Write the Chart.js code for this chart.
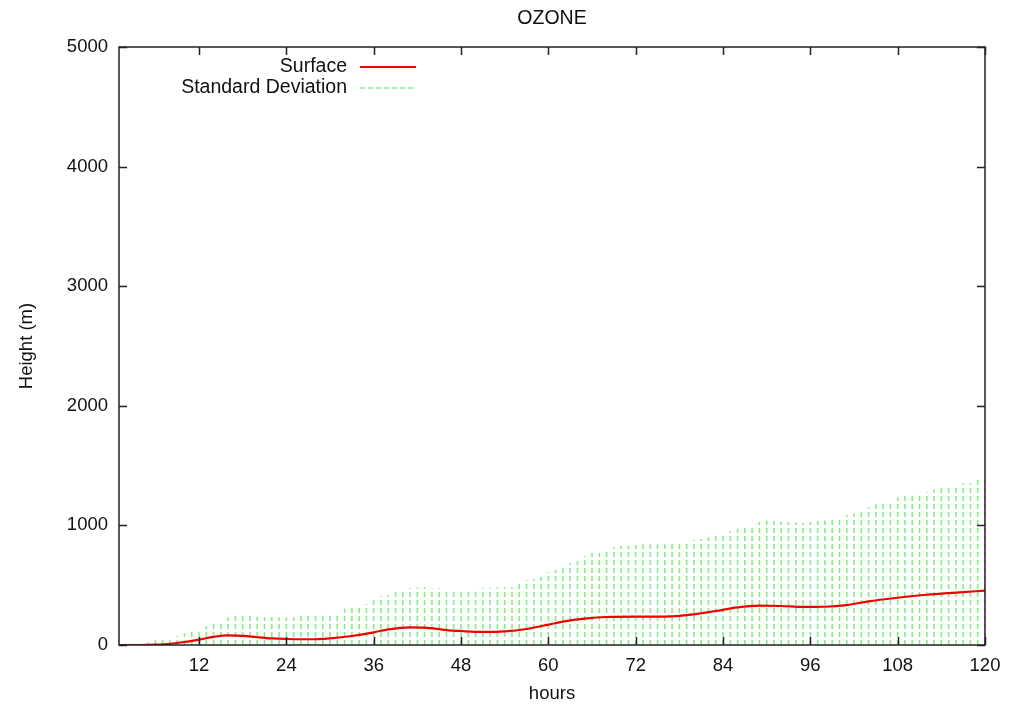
<!DOCTYPE html>
<html>
<head>
<meta charset="utf-8">
<script src="https://cdn.jsdelivr.net/npm/chart.js@4/dist/chart.umd.min.js"></script>
<style>
  html, body { margin: 0; padding: 0; background: #fff; }
  canvas { display: block; }
</style>
</head>
<body>
<canvas id="chartOzone" width="1017" height="707"></canvas>
<script>
// hours 1..120, one impulse per hour
const sdHours = Array.from({ length: 120 }, (_, i) => i + 1);
// upper end of the standard deviation band (m)
const sdUpper = [
  0, 0, 0, 5, 20, 42, 53, 60, 75, 98,
  120, 134, 159, 192, 200, 231, 248, 248, 242, 237,
  231, 231, 231, 231, 231, 242, 251, 265, 270, 268,
  270, 304, 315, 332, 343, 376, 410, 415, 454, 468,
  477, 479, 482, 474, 474, 468, 463, 460, 465, 471,
  474, 479, 482, 482, 482, 521, 543, 552, 571, 610,
  627, 661, 688, 702, 744, 772, 772, 800, 817, 828,
  831, 836, 842, 842, 842, 842, 845, 847, 867, 878,
  886, 900, 914, 914, 950, 973, 989, 1000, 1028, 1040,
  1037, 1031, 1026, 1026, 1023, 1028, 1037, 1040, 1051, 1059,
  1087, 1101, 1129, 1151, 1176, 1196, 1201, 1235, 1246, 1260,
  1274, 1277, 1302, 1315, 1329, 1340, 1352, 1352, 1385, 1395
];
// surface height read at selected hours
const surfHours = [1, 4, 6, 8, 10, 12, 14, 16, 18, 20, 22, 24, 27, 30, 33, 36, 38, 41, 43, 46, 48, 51, 54, 57, 60, 62, 65, 68, 72, 76, 80, 83, 86, 89, 92, 95, 98, 101, 104, 108, 112, 116, 120];
const surfValues = [0, 0, 3, 10, 25, 45, 68, 80, 77, 65, 55, 50, 48, 56, 75, 106, 131, 148, 146, 125, 117, 109, 114, 134, 170, 195, 220, 234, 237, 237, 256, 284, 315, 329, 326, 318, 320, 334, 365, 395, 420, 438, 455];

const xTicks = [12, 24, 36, 48, 60, 72, 84, 96, 108, 120];
const yTicks = [0, 1000, 2000, 3000, 4000, 5000];

const FONT = '"Liberation Sans", Arial, sans-serif';
const RED = '#f00000';
const GREEN = '#84ec84';

const impulses = [];
sdHours.forEach((h, i) => {
  impulses.push({ x: h, y: 0 }, { x: h, y: sdUpper[i] }, { x: h, y: null });
});

const frame = {
  id: 'frame',
  afterDraw(chart) {
    const { ctx, chartArea: a } = chart;
    const xs = chart.scales.x, ys = chart.scales.y;
    ctx.save();
    ctx.strokeStyle = '#222';
    ctx.lineWidth = 1.5;
    ctx.strokeRect(a.left, a.top, a.right - a.left, a.bottom - a.top);
    ctx.beginPath();
    xTicks.forEach(v => {
      const px = Math.round(xs.getPixelForValue(v)) + 0.5;
      ctx.moveTo(px, a.bottom); ctx.lineTo(px, a.bottom - 8);
      ctx.moveTo(px, a.top); ctx.lineTo(px, a.top + 8);
    });
    yTicks.forEach(v => {
      const py = Math.round(ys.getPixelForValue(v)) + 0.5;
      ctx.moveTo(a.left, py); ctx.lineTo(a.left + 8, py);
      ctx.moveTo(a.right, py); ctx.lineTo(a.right - 8, py);
    });
    ctx.stroke();

    // legend
    ctx.fillStyle = '#111';
    ctx.font = '19.5px ' + FONT;
    ctx.textAlign = 'right';
    ctx.textBaseline = 'middle';
    ctx.fillText('Surface', 347, 67);
    ctx.fillText('Standard Deviation', 347, 88);
    ctx.lineWidth = 2;
    ctx.strokeStyle = RED;
    ctx.beginPath(); ctx.moveTo(360, 67); ctx.lineTo(416, 67); ctx.stroke();
    ctx.lineWidth = 1.6;
    ctx.strokeStyle = GREEN;
    ctx.setLineDash([5, 3]);
    ctx.beginPath(); ctx.moveTo(360, 88); ctx.lineTo(416, 88); ctx.stroke();
    ctx.setLineDash([]);

    // titles
    const cx = (a.left + a.right) / 2;
    ctx.textAlign = 'center';
    ctx.font = '19.5px ' + FONT;
    ctx.fillText('OZONE', cx, 19);
    ctx.font = '18.5px ' + FONT;
    ctx.fillText('hours', cx, 694);
    ctx.translate(27, (a.top + a.bottom) / 2);
    ctx.rotate(-Math.PI / 2);
    ctx.fillText('Height (m)', 0, 0);
    ctx.restore();
  }
};

new Chart(document.getElementById('chartOzone'), {
  type: 'line',
  data: {
    datasets: [
      {
        label: 'Surface',
        data: surfHours.map((h, i) => ({ x: h, y: surfValues[i] })),
        borderColor: RED,
        borderWidth: 2.2,
        pointRadius: 0,
        cubicInterpolationMode: 'monotone',
        order: 0
      },
      {
        label: 'Standard Deviation',
        data: impulses,
        borderColor: GREEN,
        borderWidth: 1.6,
        borderDash: [5, 3],
        pointRadius: 0,
        spanGaps: false,
        tension: 0,
        order: 1
      }
    ]
  },
  options: {
    responsive: false,
    animation: false,
    layout: { padding: { top: 47, right: 32, left: 0, bottom: 0 } },
    plugins: { legend: { display: false }, title: { display: false }, tooltip: { enabled: false } },
    scales: {
      x: {
        type: 'linear',
        min: 1,
        max: 120,
        afterBuildTicks: s => { s.ticks = xTicks.map(v => ({ value: v })); },
        afterFit: s => { s.height = 62; },
        grid: { display: false, drawTicks: false },
        border: { display: false },
        ticks: { color: '#111', font: { family: FONT, size: 18.5 }, padding: 10, maxRotation: 0, autoSkip: false, callback: v => String(v) }
      },
      y: {
        type: 'linear',
        min: 0,
        max: 5000,
        afterBuildTicks: s => { s.ticks = yTicks.map(v => ({ value: v })); },
        afterFit: s => { s.width = 119; },
        grid: { display: false, drawTicks: false },
        border: { display: false },
        ticks: { color: '#111', font: { family: FONT, size: 18.5 }, padding: 11, callback: v => String(v) }
      }
    }
  },
  plugins: [frame]
});
</script>
</body>
</html>
